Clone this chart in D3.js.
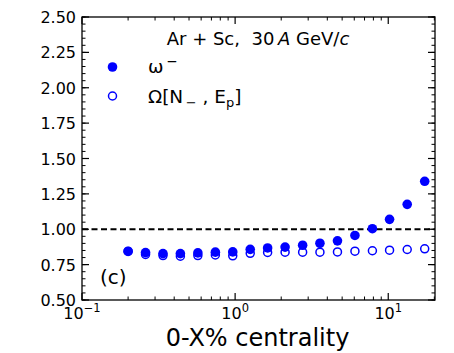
<!DOCTYPE html>
<html>
<head>
<meta charset="utf-8">
<script src="https://d3js.org/d3.v7.min.js"></script>
<style>
  body { margin: 0; background: #fff; }
  text { font-family: "DejaVu Sans", sans-serif; white-space: pre; }
</style>
</head>
<body>
<svg id="chart"></svg>
<script>
// centrality bins (0-X%)
var centrality = [0.2, 0.26, 0.338, 0.439, 0.571, 0.743, 0.965, 1.255, 1.63, 2.12,
                  2.76, 3.58, 4.66, 6.06, 7.88, 10.2, 13.3, 17.3];
// omega^- (filled)
var omegaMinus = [0.843, 0.835, 0.828, 0.828, 0.833, 0.838, 0.840, 0.858, 0.868, 0.874,
                  0.887, 0.901, 0.918, 0.956, 1.004, 1.07, 1.176, 1.339];
// Omega[N-, Ep] (open)
var omegaNEp = [0.845, 0.822, 0.814, 0.810, 0.814, 0.818, 0.812, 0.830, 0.836, 0.838,
                0.838, 0.838, 0.840, 0.845, 0.848, 0.852, 0.857, 0.862];
var yTicks = [0.50, 0.75, 1.00, 1.25, 1.50, 1.75, 2.00, 2.25, 2.50];
var xTicks = [0.1, 1, 10];
var xExp = ["\u22121", "0", "1"];

var W = 454, H = 353;
var margin = { top: 17, right: 19, bottom: 53, left: 82 };
var width = W - margin.left - margin.right,
    height = H - margin.top - margin.bottom;

var svg = d3.select("#chart").attr("width", W).attr("height", H);
var g = svg.append("g").attr("transform", "translate(" + margin.left + "," + margin.top + ")");

var x = d3.scaleLog().domain([0.1, 20.2]).range([0, width]);
var y = d3.scaleLinear().domain([0.5, 2.5]).range([height, 0]);

// minor ticks
var xMinor = [];
[0.1, 1, 10].forEach(function (d) {
    for (var k = 2; k <= 9; k++) if (d * k <= 20.2) xMinor.push(d * k);
});
var yMinor = d3.range(0.5, 2.5001, 0.05);

var black = "#000";
function tickLine(x1, y1, x2, y2, w) {
    g.append("line").attr("x1", x1).attr("y1", y1).attr("x2", x2).attr("y2", y2)
        .attr("stroke", black).attr("stroke-width", w || 1);
}

// y ticks both sides, inward
yMinor.forEach(function (v) {
    tickLine(0, y(v), 3.5, y(v));
    tickLine(width, y(v), width - 3.5, y(v));
});
yTicks.forEach(function (v) {
    tickLine(0, y(v), 7, y(v), 1.2);
    tickLine(width, y(v), width - 7, y(v), 1.2);
    g.append("text").attr("x", -6).attr("y", y(v) + 6)
        .attr("text-anchor", "end").attr("font-size", 16).text(v.toFixed(2));
});

// x ticks top and bottom, inward
xMinor.forEach(function (v) {
    tickLine(x(v), height, x(v), height - 3.5);
    tickLine(x(v), 0, x(v), 3.5);
});
xTicks.forEach(function (v, i) {
    tickLine(x(v), height, x(v), height - 7, 1.2);
    tickLine(x(v), 0, x(v), 7, 1.2);
    var t = g.append("text").attr("x", x(v)).attr("y", height + 19)
        .attr("text-anchor", "middle").attr("font-size", 16);
    t.append("tspan").text("10");
    t.append("tspan").attr("dy", -7).attr("font-size", 11.5).text(xExp[i]);
});

// frame
g.append("rect").attr("width", width).attr("height", height)
    .attr("fill", "none").attr("stroke", black).attr("stroke-width", 1.3);

// reference line
g.append("line").attr("x1", 0).attr("x2", width).attr("y1", y(1)).attr("y2", y(1))
    .attr("stroke", black).attr("stroke-width", 2).attr("stroke-dasharray", "6,3.5");

var blue = "#0000ff";
// open markers first (drawn under filled)
g.append("g").selectAll("circle").data(centrality).join("circle")
    .attr("cx", function (d) { return x(d); })
    .attr("cy", function (d, i) { return y(omegaNEp[i]); })
    .attr("r", 4)
    .attr("fill", "none").attr("stroke", blue).attr("stroke-width", 1.5);

g.append("g").selectAll("circle").data(centrality).join("circle")
    .attr("cx", function (d) { return x(d); })
    .attr("cy", function (d, i) { return y(omegaMinus[i]); })
    .attr("r", 4.8)
    .attr("fill", blue);

// title
var title = g.append("text").attr("x", 176).attr("y", 28)
    .attr("text-anchor", "middle").attr("font-size", 18);
title.append("tspan").text("Ar + Sc,\u00a0\u00a030\u2009");
title.append("tspan").attr("font-style", "italic").text("A");
title.append("tspan").text(" GeV/");
title.append("tspan").attr("font-style", "italic").text("c");

// legend
g.append("circle").attr("cx", 30.5).attr("cy", 50).attr("r", 4.8).attr("fill", blue);
var l1 = g.append("text").attr("x", 66).attr("y", 56).attr("font-size", 18.5);
l1.append("tspan").text("\u03c9");
l1.append("tspan").attr("dy", -7).attr("font-size", 13.5).text("\u2009\u2212");

g.append("circle").attr("cx", 30.5).attr("cy", 79).attr("r", 4)
    .attr("fill", "none").attr("stroke", blue).attr("stroke-width", 1.5);
var l2 = g.append("text").attr("x", 66).attr("y", 86).attr("font-size", 18.5);
l2.append("tspan").text("\u03a9[N");
l2.append("tspan").attr("dy", 4).attr("font-size", 13).text("\u2009\u2212");
l2.append("tspan").attr("dy", -4).text(" , E");
l2.append("tspan").attr("dy", 4).attr("font-size", 13).text("p");
l2.append("tspan").attr("dy", -4).text("]");

// panel label
g.append("text").attr("x", 18).attr("y", 267).attr("font-size", 20).text("(c)");

// x label
svg.append("text").attr("x", margin.left + width / 2 - 1).attr("y", 346)
    .attr("text-anchor", "middle").attr("font-size", 24).text("0-X% centrality");
</script>
</body>
</html>
